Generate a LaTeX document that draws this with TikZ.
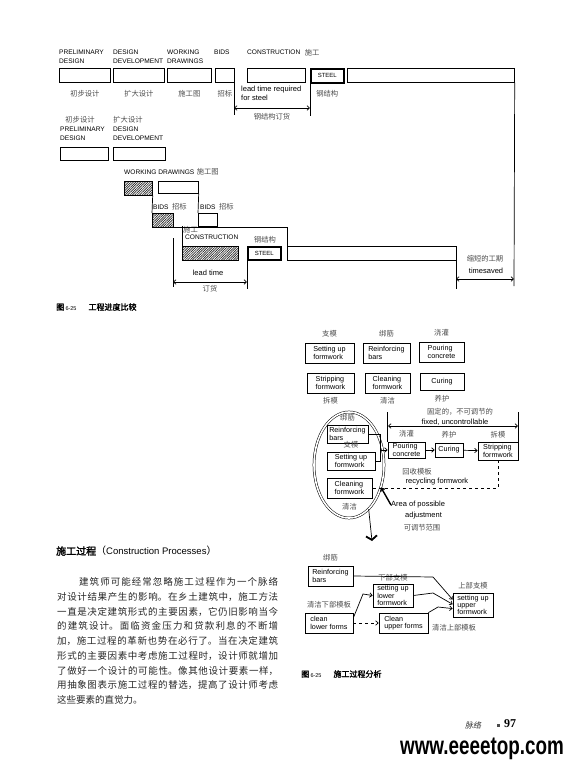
\documentclass[tikz,border=0pt]{standalone}
\usepackage{fontspec}
\setmainfont{Liberation Serif}
\setsansfont{Liberation Sans}
\newfontfamily\zhfont{Noto Sans CJK SC}
\newfontfamily\zhbold[FakeBold=2]{Noto Sans CJK SC}
\newfontfamily\zhslant[FakeSlant=0.2]{Noto Sans CJK SC}
\usetikzlibrary{positioning, patterns.meta, arrows.meta, shapes.geometric}
\XeTeXlinebreaklocale "zh"
\XeTeXlinebreakskip=0pt plus 3pt

\begin{document}
\begin{tikzpicture}[x=1pt, y=-1pt, >={Straight Barb[length=2.5pt,width=4.5pt]},
    every node/.style={inner sep=0pt},
    pen/.style={line width=0.7pt},
    bar/.style={draw, line width=0.7pt, anchor=north west, minimum height=14},
    hatchbar/.style={bar, pattern={Lines[angle=45, distance=1.7pt, line width=0.7pt]}, pattern color=black!85},
    steelbar/.style={bar, line width=1.6pt, font=\sffamily\fontsize{6}{7}\selectfont},
    taskbox/.style={draw, line width=0.7pt, align=left, inner sep=1.5pt, font=\sffamily\fontsize{7.2}{7.2}\selectfont},
    caps/.style={align=left, font=\sffamily\fontsize{6.6}{8.5}\selectfont},
    zh/.style={text=black!70, font=\zhfont\fontsize{7.3}{9}\selectfont},
    hand/.style={align=left, font=\sffamily\fontsize{7.5}{8.5}\selectfont}]
    \useasboundingbox (0,0) rectangle (575,765);

    % schedule, one phase after the other
    \node[caps, anchor=north west] (pdlbl) at (59,50) {PRELIMINARY\\DESIGN};
    \node[caps, anchor=north west] (ddlbl) at (113,50) {DESIGN\\DEVELOPMENT};
    \node[caps, anchor=north west] (wdlbl) at (167,50) {WORKING\\DRAWINGS};
    \node[caps, anchor=north west] (bdlbl) at (214,50) {BIDS};
    \node[caps, anchor=north west] (cnlbl) at (247,50) {CONSTRUCTION};
    \node[zh, right=4pt of cnlbl] (cnzh) {施工};

    \node[bar, minimum width=51] (pd1) at (59,68) {};
    \node[bar, minimum width=51] (dd1) at (113,68) {};
    \node[bar, minimum width=44] (wd1) at (167,68) {};
    \node[bar, minimum width=19] (bd1) at (215,68) {};
    \node[bar, minimum width=58] (cn1) at (247,68) {};
    \node[steelbar, minimum width=33] (st1) at (310,68) {STEEL};
    \node[bar, minimum width=167] (lg1) at (347,68) {};

    \node[zh, below=7pt of pd1] (pdzh) {初步设计};
    \node[zh, below=7pt of dd1] (ddzh) {扩大设计};
    \node[zh, below=7pt of wd1] (wdzh) {施工图};
    \node[zh, below=7pt of bd1] (bdzh) {招标};
    \node[zh, below=7pt of st1] (stzh) {钢结构};

    \node[hand, anchor=north west] (ltlbl) at (241,86) {lead time required\\for steel};
    \draw[pen] (bd1.south east) -- ++(0,32);
    \draw[pen] (st1.south west) -- ++(0,32);
    \coordinate (ltA) at (234,108);
    \coordinate (ltB) at (310,108);
    \draw[pen, <->] (ltA) -- (ltB) node[zh, midway, below=5pt] (ltzh) {钢结构订货};

    % schedule, phases overlapped
    \node[zh] (pdzh2) at (80,120) {初步设计};
    \node[zh] (ddzh2) at (128,120) {扩大设计};
    \node[caps, anchor=north west] (pdlbl2) at (60,127) {PRELIMINARY\\DESIGN};
    \node[caps, anchor=north west] (ddlbl2) at (113,127) {DESIGN\\DEVELOPMENT};
    \node[bar, minimum width=48, minimum height=13] (pd2) at (60,147) {};
    \node[bar, minimum width=52, minimum height=13] (dd2) at (113,147) {};

    \node[caps, anchor=west] (wdlbl2) at (124,172) {WORKING DRAWINGS};
    \node[zh, right=2pt of wdlbl2] (wdzh2) {施工图};
    \node[hatchbar, minimum width=28] (wd2h) at (124,181) {};
    \node[bar, minimum width=40, minimum height=12] (wd2) at (158,181) {};

    \node[caps, anchor=west] (bdlbl2) at (153,207) {BIDS};
    \node[zh, right=3pt of bdlbl2] (bdzh2) {招标};
    \node[caps, anchor=west] (bdlbl3) at (200,207) {BIDS};
    \node[zh, right=3pt of bdlbl3] (bdzh3) {招标};
    \node[hatchbar, minimum width=21] (bd2h) at (152,213) {};
    \node[bar, minimum width=19, minimum height=13] (bd2) at (198,213) {};
    \draw[pen] (wd2h.south east) -- (bd2h.north west);
    \draw[pen] (wd2.south east) -- (bd2.north west);

    \node[zh, anchor=west] (cnzh2) at (183,230) {施工};
    \node[caps, anchor=west] (cnlbl2) at (185,237) {CONSTRUCTION};
    \node[zh] (stzh2) at (265,240) {钢结构};
    \node[hatchbar, minimum width=56] (cn2h) at (182,246) {};
    \node[steelbar, minimum width=33, minimum height=13] (st2) at (247,246) {STEEL};
    \node[bar, minimum width=169] (lg2) at (287,246) {};
    \draw[pen] (bd2h.south east) -| (lg2.north west);
    \draw[pen] (cn2h.north west) -- ++(0,-20);

    \coordinate (lt3) at (173,238);
    \coordinate (lt4) at (173,287);
    \draw[pen] (lt3) -- (lt4);
    \draw[pen] (st2.south west) -- ++(0,28);
    \coordinate (ltC) at (173,282);
    \coordinate (ltD) at (247,282);
    \draw[pen, <->] (ltC) -- (ltD) node[zh, midway, below=3pt] (ltzh2) {订货};
    \node[hand] (lthand) at (208,273) {lead time};

    % time saved
    \coordinate (tsT) at (514,286);
    \draw[pen] (lg1.south east) -- (tsT);
    \draw[pen] (lg2.south east) -- ++(0,28);
    \coordinate (tsA) at (456,279);
    \coordinate (tsB) at (514,279);
    \draw[pen, <->] (tsA) -- (tsB);
    \node[zh] (tszh) at (485,259) {缩短的工期};
    \node[hand] (tshand) at (486,271) {timesaved};

    \node[anchor=west, font=\zhbold\fontsize{8}{9}\selectfont] (cap1) at (56,307) {图\,{\sffamily\fontsize{5.5}{6}\selectfont 6-25}\hspace{12pt}工程进度比较};

    % construction activities
    \node[taskbox, minimum width=49, minimum height=20] (sfA) at (329.5,353) {Setting up\\formwork};
    \node[taskbox, minimum width=47, minimum height=20] (rbA) at (386.5,353) {Reinforcing\\bars};
    \node[taskbox, minimum width=45, minimum height=20] (pcA) at (441.5,352) {Pouring\\concrete};
    \node[taskbox, minimum width=47, minimum height=20] (spA) at (330.5,383) {Stripping\\formwork};
    \node[taskbox, minimum width=45, minimum height=20] (cfA) at (387.5,383) {Cleaning\\formwork};
    \node[taskbox, minimum width=44, minimum height=17] (cuA) at (442,381.5) {Curing};
    \node[zh, above=5pt of sfA] (sfzhA) {支模};
    \node[zh, above=5pt of rbA] (rbzhA) {绑筋};
    \node[zh, above=5pt of pcA] (pczhA) {浇灌};
    \node[zh, below=4pt of spA] (spzhA) {拆模};
    \node[zh, below=4pt of cfA] (cfzhA) {清洁};
    \node[zh, below=5pt of cuA] (cuzhA) {养护};

    % sequence with the area of adjustment
    \node[zh] (fixzh) at (460,412) {固定的，不可调节的};
    \node[hand] (fixhand) at (455,422) {fixed, uncontrollable};
    \node[draw, ellipse, double, double distance=1.6pt, line width=0.5pt, minimum width=70, minimum height=106] (area) at (349,465) {};
    \node[taskbox, minimum width=41, minimum height=18] (rbB) at (347.5,434) {Reinforcing\\bars};
    \node[taskbox, minimum width=48, minimum height=18] (sfB) at (351,461) {Setting up\\formwork};
    \node[taskbox, minimum width=45, minimum height=20] (cfB) at (349.5,488) {Cleaning\\formwork};
    \node[zh, above=3pt of rbB] (rbzhB) {绑筋};
    \node[zh, above=3pt of sfB] (sfzhB) {支模};
    \node[zh, below=5pt of cfB] (cfzhB) {清洁};
    \node[taskbox, minimum width=37, minimum height=16] (pcB) at (406.5,450) {Pouring\\concrete};
    \node[taskbox, minimum width=28, minimum height=14] (cuB) at (449,450) {Curing};
    \node[taskbox, minimum width=40, minimum height=18] (stB) at (498,451) {Stripping\\formwork};
    \node[zh, above=4pt of pcB] (pczhB) {浇灌};
    \node[zh, above=4pt of cuB] (cuzhB) {养护};
    \node[zh, above=3pt of stB] (stzhB) {拆模};

    \draw[pen] (pcB.north west) -- ++(0,-30);
    \draw[pen] (stB.north east) -- ++(0,-30);
    \coordinate (fxA) at (388,426);
    \coordinate (fxB) at (518,426);
    \draw[pen, <->] (fxA) -- (fxB);

    \coordinate (mrg) at (380,450);
    \draw[pen, ->] (rbB.east) -| (mrg) -- (pcB.west);
    \draw[pen] (sfB.east) -| (mrg);
    \draw[pen, ->] (pcB) -- (cuB);
    \draw[pen, ->] (cuB) -- (stB);
    \draw[pen, dashed] (stB.south) |- (cfB.east);
    \node[zh] (recyzh) at (417,472) {回收模板};
    \node[hand] (recyhand) at (437,482) {recycling formwork};

    \node[hand, anchor=west] (areatxt) at (391,505) {Area of possible};
    \node[hand, anchor=west] (adjtxt) at (405,516) {adjustment};
    \node[zh] (adjzh) at (422,528) {可调节范围};
    \draw[line width=1.4pt, ->] (areatxt.west) -- (area.-35);
    \coordinate (tail) at (372,541);
    \draw[pen, -{Straight Barb[length=4pt,width=11pt,line width=1.8pt]}] (area.-66) -- (tail);

    % lower and upper formwork
    \node[taskbox, minimum width=45, minimum height=20] (rbC) at (330.5,576) {Reinforcing\\bars};
    \node[zh, above=4pt of rbC] (rbzhC) {绑筋};
    \node[taskbox, minimum width=40, minimum height=23] (loC) at (393,595.5) {setting up\\lower\\formwork};
    \node[zh, above=2pt of loC] (lozhC) {下部支模};
    \node[taskbox, minimum width=40, minimum height=24] (upC) at (473,605) {setting up\\upper\\formwork};
    \node[zh, above=3pt of upC] (upzhC) {上部支模};
    \node[taskbox, minimum width=48, minimum height=20] (clC) at (329,623) {clean\\lower forms};
    \node[zh, above=4pt of clC] (clzhC) {清洁下部模板};
    \node[taskbox, minimum width=49, minimum height=20] (cuC) at (403.5,623) {Clean\\upper forms};
    \node[zh, anchor=west] (cuzhC) at (432,628) {清洁上部模板};

    \coordinate (j1) at (433,577);
    \coordinate (j2) at (433,593);
    \coordinate (j3) at (438,607);
    \coordinate (j4) at (363,594);
    \draw[pen, ->] (rbC.east) -- (j1) -- (upC.165);
    \draw[pen, ->] (loC.east) -- (j2) -- (upC.178);
    \draw[pen, ->] (cuC.north east) -- (j3) -- (upC.190);
    \draw[pen, ->] (clC.12) -- (j4) -- (loC.west);
    \draw[pen, ->, dashed] (clC.east) -- (cuC.west);

    \node[anchor=west, font=\zhbold\fontsize{8}{9}\selectfont] (cap2) at (301,674) {图\,{\sffamily\fontsize{5.5}{6}\selectfont 6-25}\hspace{12pt}施工过程分析};

    % text column
    \node[anchor=west, font=\zhbold\fontsize{10}{12}\selectfont] (head) at (56,551) {施工过程{\zhfont（}{\sffamily\fontsize{9.5}{12}\selectfont Construction Processes}{\zhfont）}};
    \node[anchor=base west, text width=221pt, align=justify, text=black!85, font=\zhfont\fontsize{9.5}{14.75}\selectfont] (body) at (57,585.5) {\hspace*{22pt}建筑师可能经常忽略施工过程作为一个脉络\linebreak
      对设计结果产生的影响。在乡土建筑中，施工方法\linebreak
      一直是决定建筑形式的主要因素，它仍旧影响当今\linebreak
      的建筑设计。面临资金压力和贷款利息的不断增\linebreak
      加，施工过程的革新也势在必行了。当在决定建筑\linebreak
      形式的主要因素中考虑施工过程时，设计师就增加\linebreak
      了做好一个设计的可能性。像其他设计要素一样，\linebreak
      用抽象图表示施工过程的替选，提高了设计师考虑\linebreak
      这些要素的直觉力。};

    % page foot
    \node[anchor=west, text=black!80, font=\zhslant\fontsize{8}{9}\selectfont] (runhead) at (465,725) {脉络};
    \node[fill=black!70, minimum size=3pt] (dot) at (498,725) {};
    \node[anchor=west, font=\rmfamily\bfseries\fontsize{12}{13}\selectfont] (pgno) at (504,724) {97};
    \node[font=\sffamily\bfseries\fontsize{23}{25}\selectfont, xscale=0.82, yscale=1.1] (wm) at (482,749) {www.eeeetop.com};
\end{tikzpicture}
\end{document}
